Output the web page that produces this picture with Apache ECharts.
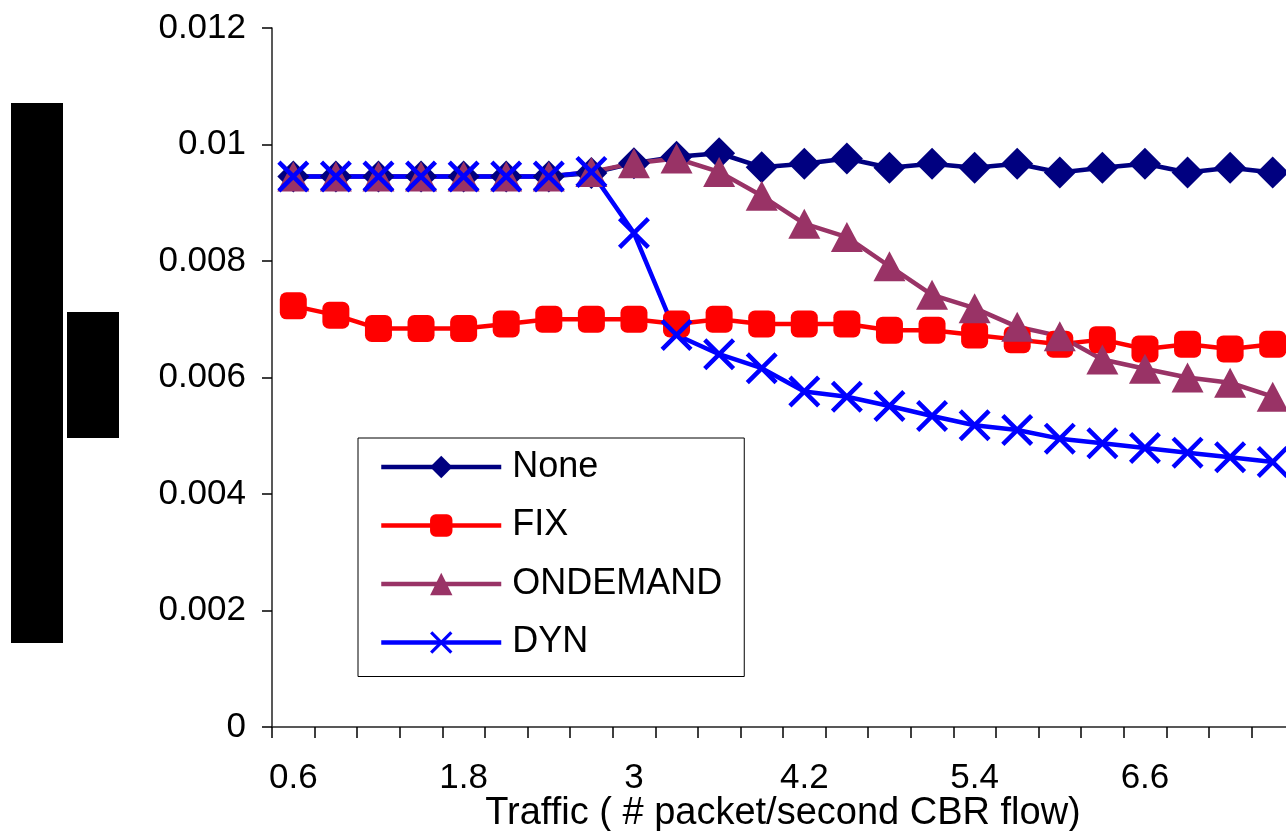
<!DOCTYPE html>
<html>
<head>
<meta charset="utf-8">
<script src="https://cdn.jsdelivr.net/npm/echarts@6/dist/echarts.min.js"></script>
<style>
  html, body { margin: 0; padding: 0; background: #fff; }
  #chart { width: 1286px; height: 831px; }
</style>
</head>
<body>
<div id="chart"></div>
<script>
// Traffic load (packets/second per CBR flow)
const categories = ['0.6','0.9','1.2','1.5','1.8','2.1','2.4','2.7','3','3.3','3.6','3.9',
                    '4.2','4.5','4.8','5.1','5.4','5.7','6','6.3','6.6','6.9','7.2','7.5'];

const noneValues = [0.00945,0.00945,0.00945,0.00945,0.00945,0.00945,0.00945,0.00951,
                    0.00968,0.00979,0.00985,0.00961,0.00967,0.00976,0.00960,0.00967,
                    0.00960,0.00967,0.00952,0.00960,0.00967,0.00952,0.00960,0.00952];
const fixValues = [0.00723,0.00707,0.00684,0.00684,0.00684,0.00692,0.00700,0.00700,
                   0.00700,0.00692,0.00700,0.00692,0.00692,0.00692,0.00681,0.00681,
                   0.00673,0.00665,0.00657,0.00665,0.00649,0.00657,0.00649,0.00657];
const ondemandValues = [0.00945,0.00945,0.00945,0.00945,0.00945,0.00945,0.00945,0.00953,
                        0.00968,0.00976,0.00953,0.00912,0.00864,0.00841,0.00791,0.00742,
                        0.00719,0.00687,0.00671,0.00631,0.00615,0.00600,0.00591,0.00567];
const dynValues = [0.00945,0.00945,0.00945,0.00945,0.00945,0.00945,0.00945,0.00953,
                   0.00848,0.00673,0.00640,0.00616,0.00576,0.00567,0.00551,0.00534,
                   0.00518,0.00510,0.00495,0.00487,0.00479,0.00471,0.00463,0.00455];

const FONT = 'Liberation Sans, Arial, sans-serif';
// filled "X" marker outline
const crossPath = 'path://M0,10 L10,0 L50,40 L90,0 L100,10 L60,50 L100,90 L90,100 L50,60 L10,100 L0,90 L40,50 Z';

function lineSeries(name, data, color, symbol, size) {
  return {
    name: name,
    type: 'line',
    data: data,
    symbol: symbol,
    symbolSize: size,
    showAllSymbol: true,
    lineStyle: { color: color, width: 4.5 },
    itemStyle: { color: color, opacity: 1 },
    emphasis: { disabled: true }
  };
}

const chart = echarts.init(document.getElementById('chart'));
chart.setOption({
  animation: false,
  backgroundColor: '#ffffff',
  grid: { left: 272, top: 28, right: -8, bottom: 104, outerBoundsMode: 'none', containLabel: false },
  xAxis: {
    type: 'category',
    data: categories,
    boundaryGap: true,
    name: 'Traffic ( # packet/second CBR flow)',
    nameLocation: 'middle',
    nameGap: 68,
    nameMoveOverlap: false,
    nameTextStyle: { fontFamily: FONT, fontSize: 38, color: '#000' },
    axisLine: { lineStyle: { color: '#222', width: 1.5 } },
    axisTick: { show: true, interval: 0, length: 11, lineStyle: { color: '#000', width: 1.5 } },
    axisLabel: { interval: 3, fontFamily: FONT, fontSize: 35, color: '#000', margin: 34 },
    splitLine: { show: false }
  },
  yAxis: {
    type: 'value',
    min: 0,
    max: 0.012,
    interval: 0.002,
    axisLine: { show: true, lineStyle: { color: '#222', width: 1.5 } },
    axisTick: { show: true, length: 10, lineStyle: { color: '#000', width: 1.5 } },
    axisLabel: { fontFamily: FONT, fontSize: 35, color: '#000', margin: 26 },
    splitLine: { show: false }
  },
  legend: {
    orient: 'vertical',
    left: 358,
    top: 438,
    itemWidth: 120,
    itemHeight: 28,
    itemGap: 20.5,
    padding: [10, 22, 15, 21],
    borderColor: '#000',
    borderWidth: 1,
    backgroundColor: '#fff',
    selectedMode: false,
    lineStyle: { width: 4.5 },
    textStyle: { fontFamily: FONT, fontSize: 36, lineHeight: 38, color: '#000', padding: [0, 0, 0, 6] },
    data: ['None', 'FIX', 'ONDEMAND', 'DYN']
  },
  graphic: [
    { type: 'rect', left: 11, top: 103, shape: { width: 52, height: 540 }, style: { fill: '#000' } },
    { type: 'rect', left: 67, top: 312, shape: { width: 52, height: 126 }, style: { fill: '#000' } }
  ],
  series: [
    lineSeries('None', noneValues, '#000080', 'diamond', 32),
    lineSeries('FIX', fixValues, '#ff0000', 'roundRect', 27),
    lineSeries('ONDEMAND', ondemandValues, '#993366', 'triangle', [32, 30]),
    lineSeries('DYN', dynValues, '#0000ff', crossPath, 32)
  ]
});
</script>
</body>
</html>
